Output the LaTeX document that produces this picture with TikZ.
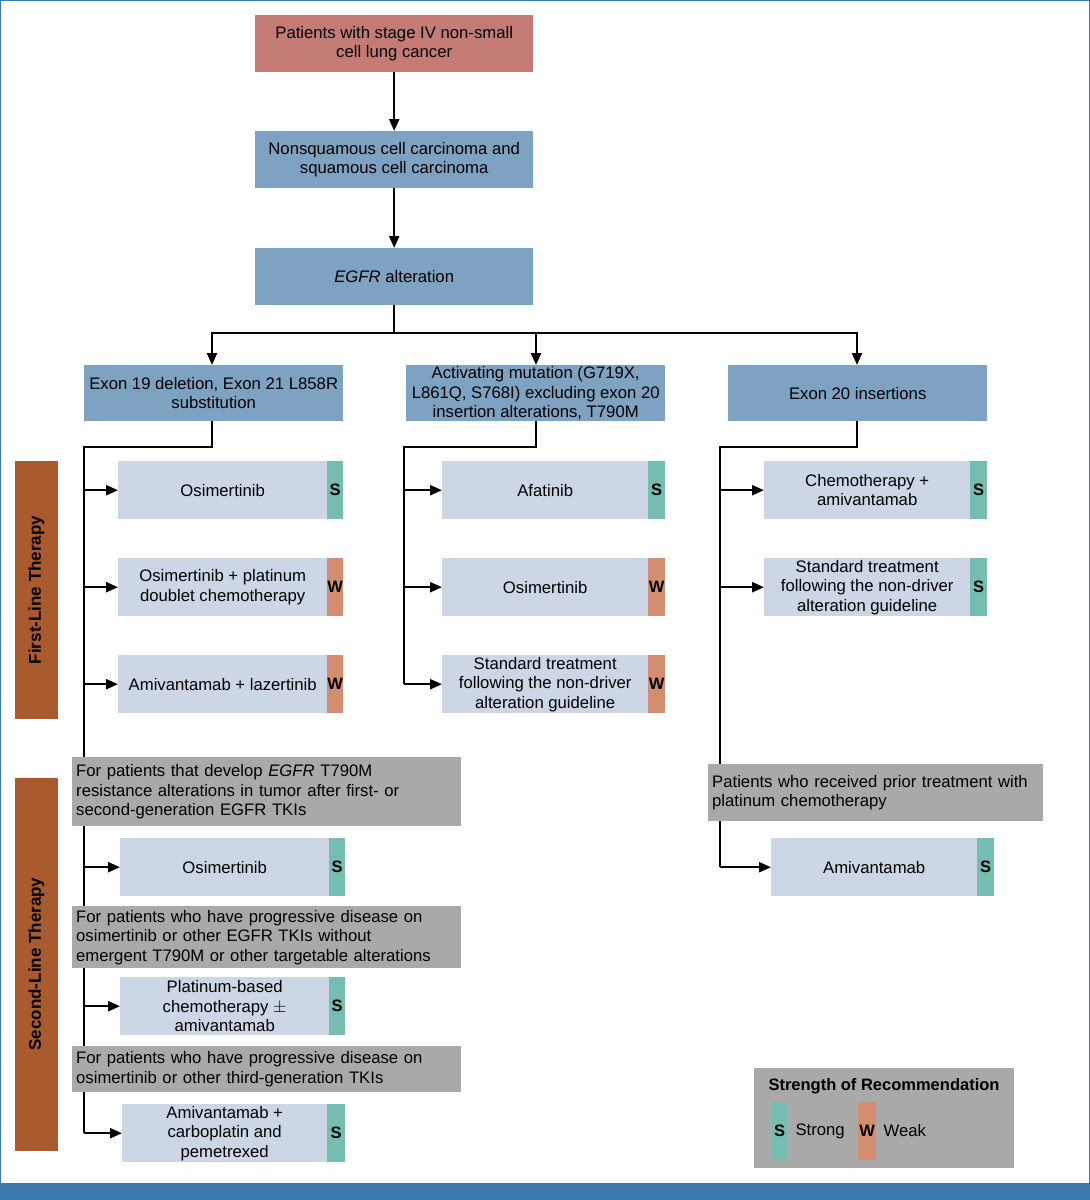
\documentclass[tikz,border=0pt]{standalone}
\usepackage{fontspec}
\setmainfont{Liberation Sans}
\usetikzlibrary{arrows.meta,backgrounds}
\definecolor{cred}{HTML}{C47B76}
\definecolor{cblue}{HTML}{7EA2C1}
\definecolor{clight}{HTML}{CCD6E4}
\definecolor{cgreen}{HTML}{74BDB0}
\definecolor{corange}{HTML}{D28E6F}
\definecolor{cgray}{HTML}{A9A9AA}
\definecolor{cbrown}{HTML}{A95A2E}
\definecolor{cbar}{HTML}{3B78AC}
\tikzset{
  every node/.style={font=\fontsize{16.7}{19.5}\selectfont},
  bx/.style={anchor=north west,inner sep=0pt,align=center},
  conn/.style={line width=2.4pt,-{Triangle[length=12pt,width=10pt]}},
  ln/.style={line width=2.4pt},
  tag/.style={anchor=north west,inner sep=0pt,font=\fontsize{16.5}{19}\selectfont\bfseries},
}
\newcommand\mybox[7]{%
  \pgfmathsetmacro\ww{#4-#2}\pgfmathsetmacro\hh{#5-#3}%
  \node[bx,fill=#6,minimum width=\ww pt,minimum height=\hh pt] (#1) at (#2pt,-#3pt) {#7};}
\newcommand\tbox[9]{%
  \mybox{#1}{#2}{#3}{#4}{#5}{clight}{#9}%
  \pgfmathsetmacro\ww{#6-#4}\pgfmathsetmacro\hh{#5-#3}%
  \node[tag,fill=#7,minimum width=\ww pt,minimum height=\hh pt] (#1t) at (#4pt,-#3pt) {#8};}
\newcommand\graybox[6]{%
  \pgfmathsetmacro\ww{#4-#2}\pgfmathsetmacro\hh{#5-#3}\pgfmathsetmacro\tw{#4-#2-8}%
  \node[bx,fill=cgray,minimum width=\ww pt,minimum height=\hh pt,text width=\tw pt,align=left] (#1) at (#2pt,-#3pt) {#6};}
\begin{document}
\begin{tikzpicture}[x=1pt,y=1pt]
\useasboundingbox (0,0) rectangle (1090,-1200);
\mybox{a}{255}{15}{533}{72}{cred}{Patients with stage IV non-small\\cell lung cancer}
\mybox{b}{255}{131}{533}{188}{cblue}{Nonsquamous cell carcinoma and\\squamous cell carcinoma}
\mybox{c}{255}{248}{533}{305}{cblue}{\textit{EGFR} alteration}
\draw[conn] (a) -- (b);
\draw[conn] (b) -- (c);
\mybox{d1}{84}{365}{343}{421}{cblue}{Exon 19 deletion, Exon 21 L858R\\substitution}
\mybox{d2}{406}{365}{665}{421}{cblue}{Activating mutation (G719X,\\L861Q, S768I) excluding exon 20\\insertion alterations, T790M}
\mybox{d3}{728}{365}{987}{421}{cblue}{Exon 20 insertions}
\coordinate (j) at (c.south |- 0,-333);
\draw[ln] (c.south) -- (j);
\draw[ln] (211,-333) -- (858,-333);
\draw[conn] (212,-333) -- (d1.north -| 212,0);
\draw[conn] (536,-333) -- (d2.north -| 536,0);
\draw[conn] (857,-333) -- (d3.north -| 857,0);
\fill[cbrown] (15,-461) rectangle (58,-719);
\node[rotate=90,font=\fontsize{17}{19}\selectfont\bfseries] (fl) at (36.5,-590) {First-Line Therapy};
\fill[cbrown] (15,-778) rectangle (58,-1151);
\node[rotate=90,font=\fontsize{17}{19}\selectfont\bfseries] (sl) at (36.5,-964) {Second-Line Therapy};
\tbox{e1}{118}{461}{327}{519}{343}{cgreen}{S}{Osimertinib}
\tbox{e2}{118}{558}{327}{616}{343}{corange}{W}{Osimertinib + platinum\\doublet chemotherapy}
\tbox{e3}{118}{655}{327}{713}{343}{corange}{W}{Amivantamab + lazertinib}
\graybox{g1}{72}{757}{461}{826}{For patients that develop \textit{EGFR} T790M\\resistance alterations in tumor after first- or\\second-generation EGFR TKIs}
\tbox{e4}{120}{838}{329}{896}{345}{cgreen}{S}{Osimertinib}
\graybox{g2}{72}{906}{461}{968}{For patients who have progressive disease on\\osimertinib or other EGFR TKIs without\\emergent T790M or other targetable alterations}
\tbox{e5}{120}{977}{329}{1035}{345}{cgreen}{S}{Platinum-based\\chemotherapy $\pm$\\amivantamab}
\graybox{g3}{72}{1046}{461}{1092}{For patients who have progressive disease on\\osimertinib or other third-generation TKIs}
\tbox{e6}{122}{1104}{327}{1162}{345}{cgreen}{S}{Amivantamab +\\carboplatin and\\pemetrexed}
\tbox{f1}{442}{461}{648}{519}{665}{cgreen}{S}{Afatinib}
\tbox{f2}{442}{558}{648}{616}{665}{corange}{W}{Osimertinib}
\tbox{f3}{442}{655}{648}{713}{665}{corange}{W}{Standard treatment\\following the non-driver\\alteration guideline}
\tbox{h1}{764}{461}{970}{519}{987}{cgreen}{S}{Chemotherapy +\\amivantamab}
\tbox{h2}{764}{558}{970}{616}{987}{cgreen}{S}{Standard treatment\\following the non-driver\\alteration guideline}
\graybox{g4}{708}{764}{1043}{821}{Patients who received prior treatment with\\platinum chemotherapy}
\tbox{h3}{771}{838}{977}{896}{994}{cgreen}{S}{Amivantamab}
\begin{scope}[on background layer]
\fill[white] (0,0) rectangle (1090,-1200);
\draw[ln] (d1.south -| 212,0) -- (212,-447) -- (84,-447) -- (84,-1133);
\draw[ln] (d2.south -| 536,0) -- (536,-447) -- (404,-447) -- (404,-684);
\draw[ln] (d3.south -| 857,0) -- (857,-447) -- (720,-447) -- (720,-867);
\end{scope}
\foreach \n in {e1,e2,e3,e4,e5,e6} \draw[conn] (84,0 |- \n.west) -- (\n.west);
\foreach \n in {f1,f2,f3} \draw[conn] (404,0 |- \n.west) -- (\n.west);
\foreach \n in {h1,h2,h3} \draw[conn] (720,0 |- \n.west) -- (\n.west);
\fill[cgray] (754,-1068) rectangle (1014,-1168);
\node[font=\fontsize{16.5}{19}\selectfont\bfseries] (lt) at (884,-1086) {Strength of Recommendation};
\node[tag,fill=cgreen,minimum width=15pt,minimum height=58pt] (ls) at (772pt,-1102pt) {S};
\node[anchor=west] (lst) at (792,-1131) {Strong};
\node[tag,fill=corange,minimum width=18pt,minimum height=58pt] (lw) at (858pt,-1102pt) {W};
\node[anchor=west] (lwt) at (880,-1131) {Weak};
\draw[cbar,line width=1pt] (0.5,-0.5) rectangle (1089.5,-1199.5);
\fill[cbar] (0,-1183) rectangle (1090,-1200);
\end{tikzpicture}
\end{document}
